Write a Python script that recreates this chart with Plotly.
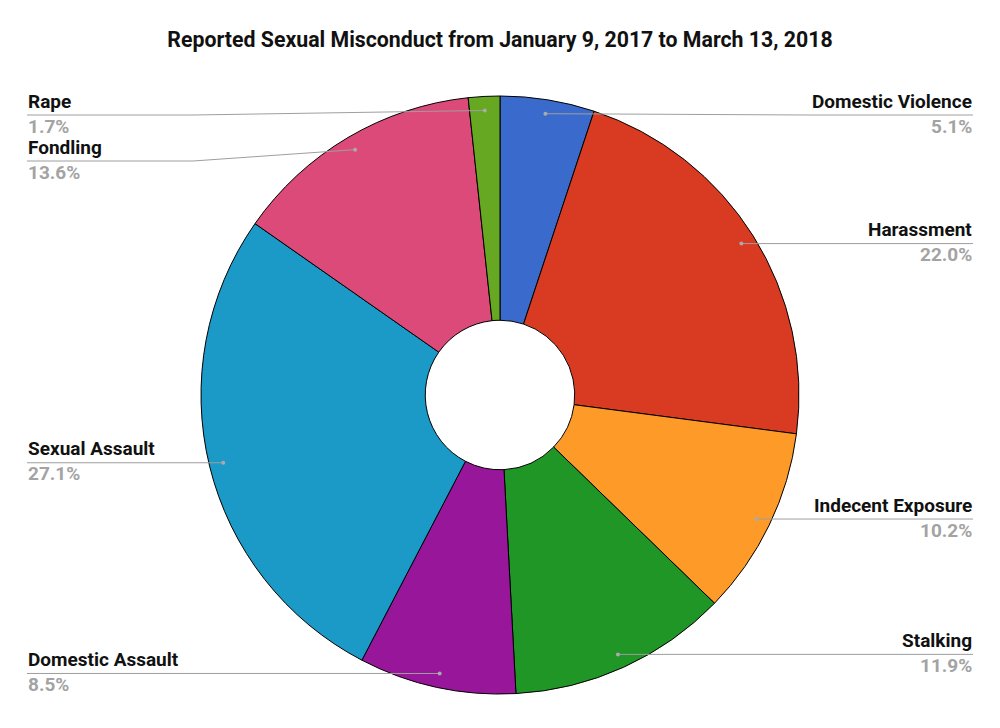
import math
import plotly.graph_objects as go

# ---- data ----
categories = ["Domestic Violence", "Harassment", "Indecent Exposure", "Stalking",
              "Domestic Assault", "Sexual Assault", "Fondling", "Rape"]
percentages = [5.1, 22.0, 10.2, 11.9, 8.5, 27.1, 13.6, 1.7]
colors = ["#3a6bcc", "#d93b22", "#fd9a28", "#1f9625",
          "#98169a", "#1b9ac7", "#dc4a7a", "#67a823"]
title_text = "Reported Sexual Misconduct from January 9, 2017 to March 13, 2018"

# ---- layout constants ----
W, H = 1000, 728
CX, CY, R = 500, 395, 299
HOLE = 0.25
DOT_R = 0.953 * R
LEFT_X, RIGHT_X = 27, 973
KINK_L, KINK_R = 193, 807
TOP_MIN = 115
GAP = 46
FONT = "Roboto, Arial, sans-serif"
LINE_COL = "#9e9e9e"
LABEL_SIZE = 19


def px(x):
    return x / W


def py(y):
    return 1 - y / H


fig = go.Figure(go.Pie(
    labels=categories, values=percentages, sort=False, direction="clockwise",
    rotation=0, hole=HOLE, textinfo="none", showlegend=False,
    marker=dict(colors=colors, line=dict(color="#000000", width=1)),
    domain=dict(x=[px(CX - R), px(CX + R)], y=[py(CY + R), py(CY - R)]),
))

# label anchor points derived from slice mid-angles
total = sum(percentages)
cum = 0.0
points = []
for name, v in zip(categories, percentages):
    mid = (cum + v / 2) / total
    cum += v
    th = 2 * math.pi * mid
    dx = CX + DOT_R * math.sin(th)
    dy = CY - DOT_R * math.cos(th)
    points.append(dict(name=name, pct=f"{v:.1f}%", x=dx, y=dy,
                       side="R" if math.sin(th) > 0 else "L"))

for side in ("L", "R"):
    pts = sorted([p for p in points if p["side"] == side], key=lambda p: p["y"])
    prev = None
    for p in pts:
        ly = max(p["y"], TOP_MIN)
        if prev is not None:
            ly = max(ly, prev + GAP)
        p["ly"] = ly
        prev = ly

shapes = []
annotations = []
for p in points:
    if p["side"] == "L":
        kx, ex, anchor = KINK_L, LEFT_X, "left"
    else:
        kx, ex, anchor = KINK_R, RIGHT_X, "right"
    path = (f"M {px(p['x'])} {py(p['y'])} L {px(kx)} {py(p['ly'])} "
            f"L {px(ex)} {py(p['ly'])}")
    shapes.append(dict(type="path", path=path, xref="paper", yref="paper",
                       line=dict(color=LINE_COL, width=1), layer="above"))
    shapes.append(dict(type="circle", xref="paper", yref="paper",
                       x0=px(p["x"] - 2), x1=px(p["x"] + 2),
                       y0=py(p["y"] + 2), y1=py(p["y"] - 2),
                       fillcolor="#aaaaaa", line=dict(width=0), layer="above"))
    annotations.append(dict(x=px(ex), y=py(p["ly"] - 1.5), xref="paper", yref="paper",
                            xanchor=anchor, yanchor="bottom", showarrow=False,
                            borderpad=0,
                            text=f"<b>{p['name']}</b>",
                            font=dict(family=FONT, size=LABEL_SIZE, color="#111111")))
    annotations.append(dict(x=px(ex), y=py(p["ly"] - 1.5), xref="paper", yref="paper",
                            xanchor=anchor, yanchor="top", showarrow=False,
                            borderpad=0,
                            text=f"<b>{p['pct']}</b>",
                            font=dict(family=FONT, size=LABEL_SIZE, color="#a3a3a3")))

fig.update_layout(
    width=W, height=H, margin=dict(l=0, r=0, t=0, b=0),
    paper_bgcolor="#ffffff", plot_bgcolor="#ffffff",
    title=dict(text=f"<b>{title_text}</b>", x=0.5, xanchor="center",
               y=py(39.5), yanchor="middle",
               font=dict(family=FONT, size=21.3, color="#111111")),
    shapes=shapes, annotations=annotations,
)

fig.write_html("out.html", config={"displayModeBar": False},
               post_script="document.body.style.margin='0';")
